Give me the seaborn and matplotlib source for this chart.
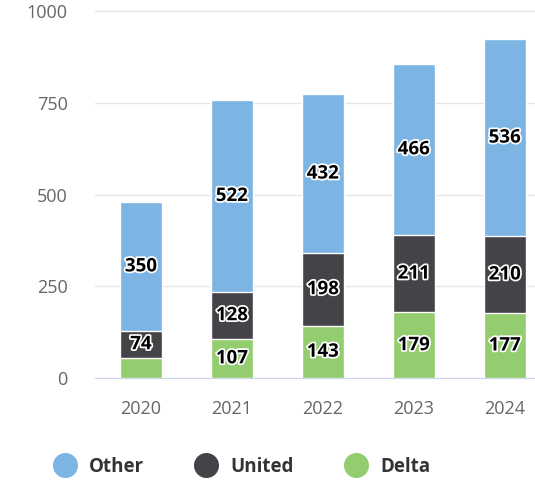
import numpy as np
import pandas as pd
import matplotlib
matplotlib.use('Agg')
import matplotlib.pyplot as plt
import matplotlib.patheffects as pe
from matplotlib.lines import Line2D
import seaborn as sns

years = ['2020', '2021', '2022', '2023', '2024']
delta = [55, 107, 143, 179, 177]
united = [74, 128, 198, 211, 210]
other = [350, 522, 432, 466, 536]

series_names = ['Other', 'United', 'Delta']
colors = {'Other': '#7cb5e3', 'United': '#434348', 'Delta': '#93cd6f'}

sns.set_style('white')
plt.rcParams['font.family'] = ['Open Sans', 'DejaVu Sans']

df = pd.DataFrame({'year': years, 'Delta': delta, 'United': united, 'Other': other})
df['united_top'] = df['Delta'] + df['United']
df['other_top'] = df['united_top'] + df['Other']

fig = plt.figure(figsize=(5.35, 4.84), dpi=100)
ax = fig.add_axes([0.1785, 0.219, 0.85, 0.781])

# stacked bars drawn back to front (cumulative heights)
for col, name in [('other_top', 'Other'), ('united_top', 'United'), ('Delta', 'Delta')]:
    sns.barplot(data=df, x='year', y=col, color=colors[name], width=0.46,
                edgecolor='white', linewidth=1, saturation=1, ax=ax, zorder=3)

# segment labels
outline = [pe.withStroke(linewidth=2.5, foreground='white')]
for i in range(len(years)):
    segs = [(0, delta[i]), (delta[i], united[i]), (delta[i] + united[i], other[i])]
    for base, val in segs:
        if val < 60:
            continue
        ax.text(i, base + val / 2, str(val), ha='center', va='center',
                fontsize=13.5, fontweight='bold', color='black',
                path_effects=outline, zorder=5)

ax.set_xlim(-0.5, 4.5)
ax.set_ylim(0, 1030)
ax.set_yticks([0, 250, 500, 750, 1000])
ax.yaxis.grid(True, color='#e6e6e6', linewidth=1)
ax.set_axisbelow(True)
for s in ['top', 'right', 'left']:
    ax.spines[s].set_visible(False)
ax.spines['bottom'].set_color('#ccd6eb')
ax.tick_params(axis='both', length=0, labelsize=13, labelcolor='#666666')
ax.tick_params(axis='x', pad=16)
ax.tick_params(axis='y', pad=20)
ax.set_xlabel('')
ax.set_ylabel('')

handles = [Line2D([0], [0], marker='o', linestyle='', markersize=17,
                  markerfacecolor=colors[n], markeredgecolor=colors[n])
           for n in series_names]
leg = fig.legend(handles, series_names, loc='center', bbox_to_anchor=(0.445, 0.035),
                 ncol=3, frameon=False, handletextpad=0.3, columnspacing=2.3,
                 prop={'size': 13.5, 'weight': 'bold'})
for t in leg.get_texts():
    t.set_color('#333333')

fig.savefig('out.png', dpi=100)
